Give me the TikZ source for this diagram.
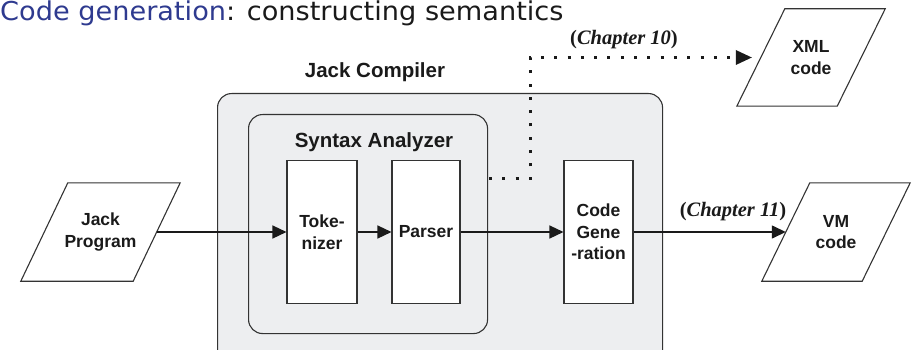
\documentclass[tikz,border=0pt]{standalone}
\usepackage{fontspec}
\setmainfont{Liberation Sans}
\newfontfamily\chapfont{Liberation Serif}
\newfontfamily\titlefont{DejaVu Sans}
\usetikzlibrary{arrows.meta,calc}
\definecolor{panel}{HTML}{EDEEF0}
\definecolor{edge}{HTML}{333333}
\definecolor{titleblue}{HTML}{2E3A8F}
\definecolor{ink}{HTML}{1A1A1A}

\begin{document}
\begin{tikzpicture}[x=1pt,y=-1pt,
  lbl/.style={font=\fontsize{17.5}{21.5}\selectfont\bfseries, align=center, text=ink},
  heading/.style={font=\fontsize{20.5}{24}\selectfont\bfseries, text=ink},
  stage/.style={draw=edge, line width=1.1pt, fill=white, minimum height=143pt, inner sep=0pt, lbl},
  group/.style={draw=edge, line width=1.1pt, fill=panel, rounded corners=14pt, inner sep=0pt, anchor=north west},
  iodata/.style={minimum height=98pt, inner sep=0pt, lbl},
  slanted/.style={draw=edge, line width=1.1pt},
  flow/.style={line width=1.4pt, draw=ink, -{Triangle[length=14pt,width=13pt]}},
  xmlflow/.style={line width=3pt, draw=ink, line cap=butt, dash pattern=on 3pt off 10.3pt,
                  -{Triangle[length=16pt,width=15pt,line width=0pt]}},
  chap/.style={font=\chapfont\fontsize{20.5}{24}\selectfont\bfseries, text=ink, inner sep=0pt}
]
\useasboundingbox (0,0) rectangle (917,350);
\clip (0,0) rectangle (917,350);

% heading
\node[anchor=base west, inner sep=0pt, text=ink, font=\titlefont\fontsize{26}{30}\selectfont]
  (title) at (0,21) {\scalebox{1.045}[1]{\textcolor{titleblue}{Code generation}: constructing semantics}};

% compiler and analyzer panels
\node[group, minimum width=445pt, minimum height=275pt] (compiler) at (217,93) {};
\node[heading] (compilerlbl) at (375,72) {Jack Compiler};
\node[group, minimum width=239pt, minimum height=219pt] (analyzer) at (248,114) {};
\node[heading] (analyzerlbl) at (374,142) {Syntax Analyzer};

% processing stages
\node[stage, minimum width=70pt] (tok) at (322,232) {Toke-\\nizer};
\node[stage, minimum width=68pt] (parser) at (426,232) {Parser};
\node[stage, minimum width=69pt] (codegen) at (598.5,232) {Code\\Gene\\-ration};

% input / output data (parallelograms)
\node[iodata, minimum width=112pt] (jack) at (100.5,232) {Jack\\Program};
\draw[slanted] ($(jack.north west)+(23.5,0)$) -- ($(jack.north east)+(23.5,0)$)
  -- ($(jack.south east)+(-23.5,0)$) -- ($(jack.south west)+(-23.5,0)$) -- cycle;

\node[iodata, minimum width=100pt] (vm) at (836,232) {VM\\code};
\draw[slanted] ($(vm.north west)+(24,0)$) -- ($(vm.north east)+(24,0)$)
  -- ($(vm.south east)+(-24,0)$) -- ($(vm.south west)+(-24,0)$) -- cycle;

\node[iodata, minimum width=100pt, minimum height=97pt] (xml) at (811,57.5) {XML\\code};
\draw[slanted] ($(xml.north west)+(24,0)$) -- ($(xml.north east)+(24,0)$)
  -- ($(xml.south east)+(-24,0)$) -- ($(xml.south west)+(-24,0)$) -- cycle;

% main flow
\draw[flow] (jack.east) -- (tok.west);
\draw[flow] (tok.east) -- (parser.west);
\draw[flow] (parser.east) -- (codegen.west);
\draw[flow] (codegen.east) -- (vm.west);
\node[chap] (ch11) at (733,212) {(\textit{Chapter 11})};

% XML side output
\coordinate (tap) at ($(analyzer.east)+(1,-45.5)$);
\draw[xmlflow, shorten >=9pt] (tap) -- ++(41,0) |- (xml.west);
\node[chap] (ch10) at (624,40) {(\textit{Chapter 10})};
\end{tikzpicture}
\end{document}
